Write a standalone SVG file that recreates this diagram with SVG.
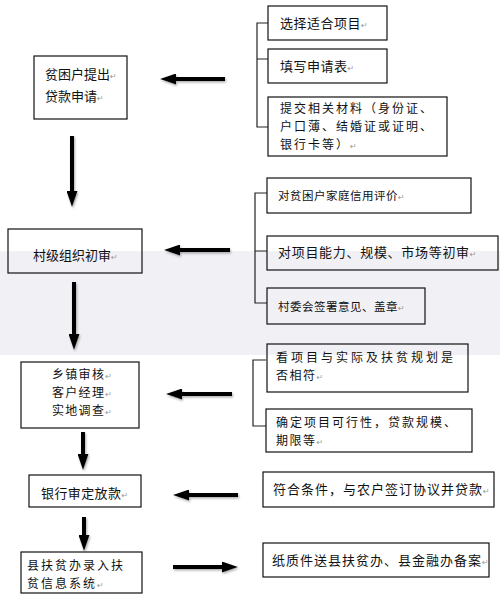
<svg xmlns="http://www.w3.org/2000/svg" width="500" height="606" viewBox="0 0 500 606">
<style>
.box{fill:none;stroke:#111;stroke-width:1.2}
.t{font-family:"Noto Sans CJK SC","Noto Sans",sans-serif;font-size:13px;fill:#111}
.m{font-size:12px}
.s{font-size:11.5px;letter-spacing:0.5px}
.rm{font-family:"DejaVu Sans",sans-serif;font-size:8px;fill:#999;letter-spacing:0}
.br{fill:none;stroke:#222;stroke-width:1.2}
.ar{stroke:#000;stroke-width:4;fill:none;marker-end:url(#head)}
</style>
<defs>
<marker id="head" markerUnits="userSpaceOnUse" markerWidth="17" markerHeight="11" refX="6" refY="5.5" orient="auto">
<path d="M0,0 L16,5.5 L0,11 z" fill="#000"/>
</marker>
<filter id="sh" x="-20%" y="-20%" width="140%" height="140%">
<feDropShadow dx="1" dy="1.5" stdDeviation="1" flood-color="#777" flood-opacity="0.6"/>
</filter>
</defs>
<rect x="0" y="251" width="500" height="104" fill="#f1f0f5"/>

<g id="connectors">
<g filter="url(#sh)">
<line class="ar" x1="225" y1="79" x2="170" y2="79"/>
<line class="ar" x1="230" y1="250" x2="174" y2="250"/>
<line class="ar" x1="232" y1="394" x2="176" y2="394"/>
<line class="ar" x1="238" y1="495" x2="183" y2="495"/>
<line class="ar" x1="173" y1="567" x2="228" y2="567"/>
<line class="ar" x1="72" y1="136" x2="72" y2="197"/>
<line class="ar" x1="74" y1="282" x2="74" y2="340"/>
<line class="ar" x1="83" y1="432" x2="83" y2="460"/>
<line class="ar" x1="84" y1="517" x2="84" y2="541"/>
</g>
<path class="br" d="M268,23 H257 V127 H268 M257,59 H268"/>
<path class="br" d="M267,193 H255 V303 H267 M255,251 H267"/>
<path class="br" d="M266,360 H253 V426 H266"/>
</g>

<g id="n1">
<rect class="box" x="34" y="56" width="93" height="63"/>
<text class="t"><tspan x="45" y="79">贫困户提出</tspan><tspan class="rm">↵</tspan><tspan x="45" y="101">贷款申请</tspan><tspan class="rm">↵</tspan></text>
</g>
<g id="n2">
<rect class="box" x="8" y="229" width="134" height="44"/>
<text class="t" x="33" y="260">村级组织初审<tspan class="rm">↵</tspan></text>
</g>
<g id="n3">
<rect class="box" x="21" y="362" width="118" height="66"/>
<text class="t m" style="letter-spacing:1.3px"><tspan x="52" y="379">乡镇审核</tspan><tspan class="rm">↵</tspan><tspan x="52" y="397">客户经理</tspan><tspan class="rm">↵</tspan><tspan x="52" y="415">实地调查</tspan><tspan class="rm">↵</tspan></text>
</g>
<g id="n4">
<rect class="box" x="29" y="475" width="112" height="32"/>
<text class="t" x="41" y="498" style="letter-spacing:0.4px">银行审定放款<tspan class="rm">↵</tspan></text>
</g>
<g id="n5">
<rect class="box" x="21" y="552" width="121" height="41"/>
<text class="t m" style="letter-spacing:2px"><tspan x="27" y="570">县扶贫办录入扶</tspan><tspan x="27" y="588">贫信息系统</tspan><tspan class="rm">↵</tspan></text>
</g>

<g id="nA">
<rect class="box" x="268" y="6" width="119" height="34"/>
<text class="t" x="280" y="28" style="letter-spacing:0.5px">选择适合项目<tspan class="rm">↵</tspan></text>
</g>
<g id="nB">
<rect class="box" x="268" y="49" width="119" height="34"/>
<text class="t" x="280" y="71" style="letter-spacing:0.5px">填写申请表<tspan class="rm">↵</tspan></text>
</g>
<g id="nC">
<rect class="box" x="268" y="97" width="179" height="59"/>
<text class="t m" style="letter-spacing:2px"><tspan x="280" y="113">提交相关材料（身份证、</tspan><tspan x="280" y="131">户口薄、结婚证或证明、</tspan><tspan x="280" y="149">银行卡等）</tspan><tspan class="rm">↵</tspan></text>
</g>
<g id="nD">
<rect class="box" x="267" y="178" width="204" height="35"/>
<text class="t s" x="278" y="200">对贫困户家庭信用评价<tspan class="rm">↵</tspan></text>
</g>
<g id="nE">
<rect class="box" x="267" y="236" width="231" height="34"/>
<text class="t" x="278" y="257" style="letter-spacing:0.7px">对项目能力、规模、市场等初审<tspan class="rm">↵</tspan></text>
</g>
<g id="nF">
<rect class="box" x="267" y="288" width="158" height="36"/>
<text class="t s" x="278" y="311">村委会签署意见、盖章<tspan class="rm">↵</tspan></text>
</g>
<g id="nG">
<rect class="box" x="267" y="344" width="201" height="48"/>
<text class="t m"><tspan x="276" y="362" style="letter-spacing:3px">看项目与实际及扶贫规划是</tspan><tspan x="276" y="380" style="letter-spacing:1.5px">否相符</tspan><tspan class="rm">↵</tspan></text>
</g>
<g id="nH">
<rect class="box" x="266" y="409" width="206" height="43"/>
<text class="t m"><tspan x="276" y="427" style="letter-spacing:2px">确定项目可行性，贷款规模、</tspan><tspan x="276" y="445" style="letter-spacing:1.5px">期限等</tspan><tspan class="rm">↵</tspan></text>
</g>
<g id="nI">
<rect class="box" x="263" y="472" width="231" height="35"/>
<text class="t" x="273" y="494" style="letter-spacing:1px">符合条件，与农户签订协议并贷款<tspan class="rm">↵</tspan></text>
</g>
<g id="nJ">
<rect class="box" x="263" y="543" width="226" height="34"/>
<text class="t" x="272" y="565" style="letter-spacing:1px">纸质件送县扶贫办、县金融办备案<tspan class="rm">↵</tspan></text>
</g>
</svg>
